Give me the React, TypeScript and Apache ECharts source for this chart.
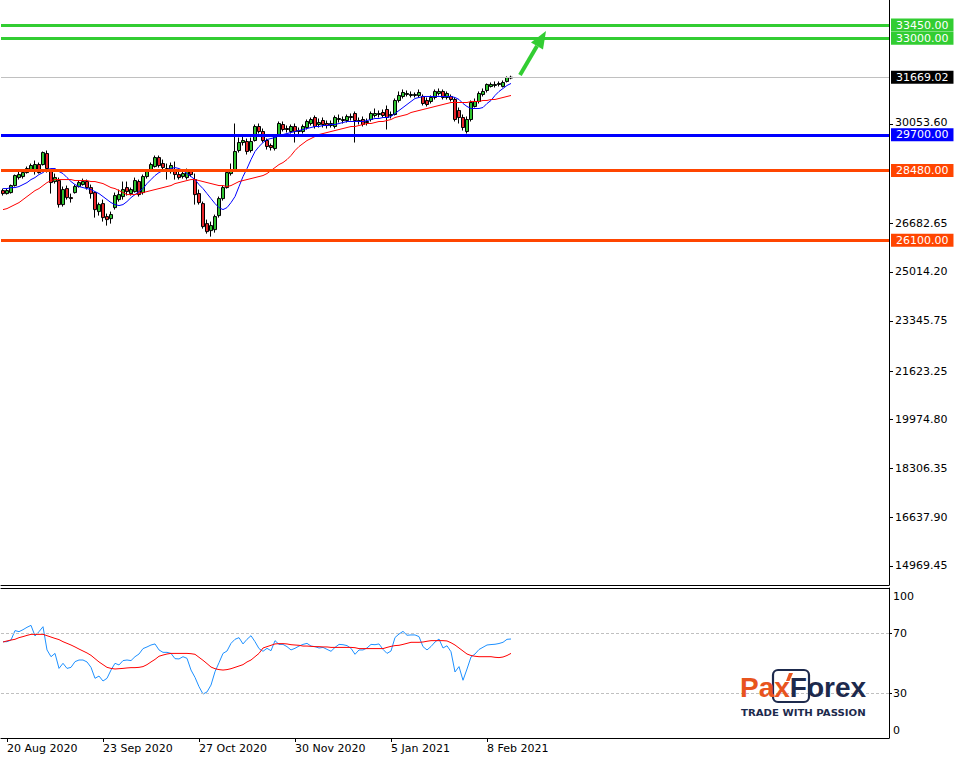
import React, { useEffect, useRef } from "react";
import * as echarts from "echarts";

// ---------- categories ----------
const MONTHS = ["Jan", "Feb", "Mar", "Apr", "May", "Jun", "Jul", "Aug", "Sep", "Oct", "Nov", "Dec"];
const FIRST_DAY = "2020-08-19";
const MARKET_HOLIDAYS = ["2020-12-25", "2021-01-01"];
const SLOT_COUNT = 222; // visible bar slots incl. empty right margin
const DATE_LABELS = ["20 Aug 2020", "23 Sep 2020", "27 Oct 2020", "30 Nov 2020", "5 Jan 2021", "8 Feb 2021"];

// ---------- candles (US30 daily) ----------
const OPEN = [
  27796, 27693, 27727, 27967, 28240, 28275, 28411, 28480, 28446, 28685,
  28685, 29061, 28446, 28104, 28138, 27317, 27864, 27556, 27727, 27933,
  28001, 28104, 27898, 27727, 27078, 27351, 26907, 26838, 27214, 27488,
  27591, 27898, 27693, 27762, 28104, 27727, 28275, 28480, 28617, 28924,
  28719, 28548, 28446, 28446, 28343, 28275, 28240, 28446, 28172, 27693,
  27351, 26667, 26428, 26462, 26941, 27522, 27898, 28377, 28480, 29164,
  29437, 29472, 29164, 29506, 29985, 29814, 29506, 29335, 29232, 29677,
  30053, 29882, 29814, 29985, 29814, 29814, 29950, 30087, 30292, 30053,
  30190, 30087, 30019, 29985, 30224, 30190, 30190, 30292, 30429, 30190,
  30224, 30121, 30224, 30361, 30395, 30463, 30566, 30361, 30395, 30874,
  31011, 31079, 31045, 31045, 31045, 31011, 30874, 30840, 30976, 31113,
  31182, 30976, 31011, 30908, 30532, 30292, 29814, 30224, 30669, 30840,
  31079, 31216, 31353, 31387, 31421, 31353, 31524, 31640,
];
const CLOSE = [
  27693, 27796, 27967, 28309, 28343, 28411, 28548, 28651, 28685, 28411,
  29095, 28548, 28069, 28240, 27317, 27830, 27556, 27522, 27933, 28069,
  28104, 27898, 27693, 27146, 27317, 26872, 26804, 26975, 27625, 27659,
  27830, 27762, 27830, 28138, 27659, 28275, 28446, 28685, 28924, 28651,
  28582, 28480, 28651, 28343, 28240, 28377, 28446, 28343, 27659, 27385,
  26565, 26394, 26599, 26907, 27522, 27898, 28411, 28514, 29130, 29437,
  29506, 29130, 29472, 29985, 29814, 29506, 29301, 29266, 29643, 30087,
  29882, 29916, 29985, 29814, 29848, 29985, 30156, 30224, 29985, 30121,
  30053, 30019, 30087, 30292, 30258, 30224, 30327, 30327, 30190, 30156,
  30053, 30156, 30429, 30429, 30429, 30361, 30292, 30395, 30874, 31045,
  31147, 31113, 31079, 31079, 31147, 30771, 30737, 30976, 31182, 31182,
  30976, 31113, 30908, 30224, 30292, 29950, 30224, 30805, 30840, 31113,
  31182, 31421, 31421, 31421, 31455, 31489, 31660, 31669.02,
];
const LOW = [
  27625, 27659, 27693, 27933, 28172, 28206, 28377, 28446, 28343, 28377,
  28651, 28411, 27693, 28035, 27214, 27249, 27488, 27385, 27693, 27898,
  27967, 27830, 27522, 26872, 26941, 26736, 26599, 26667, 27146, 27420,
  27488, 27625, 27625, 27727, 27591, 27659, 28206, 28446, 28582, 28582,
  28480, 28172, 28377, 28172, 28172, 28206, 28172, 28275, 27317, 27317,
  26496, 26325, 26223, 26359, 26872, 27454, 27864, 28309, 28446, 29095,
  29335, 29027, 29095, 29472, 29745, 29437, 29198, 29164, 29164, 29643,
  29814, 29779, 29745, 29437, 29711, 29745, 29882, 30019, 29916, 29950,
  29950, 29916, 29950, 29916, 30121, 30087, 30121, 30190, 29437, 30053,
  29985, 30019, 30156, 30292, 30292, 30292, 29882, 30258, 30361, 30805,
  30942, 31011, 30976, 30976, 30976, 30703, 30669, 30771, 30908, 31045,
  30908, 30908, 30840, 30156, 30087, 29848, 29745, 30156, 30634, 30771,
  31011, 31147, 31318, 31318, 31353, 31318, 31489, 31600,
];
const HIGH = [
  27864, 27864, 28001, 28343, 28446, 28480, 28617, 28719, 28822, 28753,
  29130, 29164, 28514, 28377, 28240, 27933, 27967, 27693, 28001, 28138,
  28206, 28172, 28001, 27762, 27385, 27488, 27009, 27078, 27727, 27830,
  28104, 28104, 27898, 28240, 28172, 28343, 28514, 28753, 28993, 28993,
  28856, 28719, 28753, 28788, 28514, 28514, 28548, 28514, 28377, 27830,
  27420, 26804, 26736, 26975, 27591, 27967, 28480, 28719, 30087, 29608,
  29643, 29574, 29608, 30053, 30087, 29916, 29574, 29403, 29711, 30156,
  30156, 30019, 30053, 30087, 29950, 30053, 30224, 30292, 30361, 30258,
  30292, 30190, 30190, 30361, 30395, 30327, 30395, 30429, 30498, 30292,
  30327, 30258, 30498, 30600, 30532, 30566, 30703, 30498, 30942, 31182,
  31250, 31216, 31182, 31147, 31250, 31079, 30976, 31045, 31250, 31284,
  31250, 31182, 31079, 30976, 30634, 30395, 30327, 30874, 30942, 31182,
  31284, 31455, 31489, 31524, 31524, 31558, 31695, 31720,
];

// ---------- moving averages ----------
const MA_FAST = [
  27864, 27864, 27898, 27898, 27933, 28001, 28069, 28172, 28240, 28343,
  28411, 28514, 28548, 28548, 28446, 28377, 28240, 28104, 28001, 27933,
  27898, 27864, 27830, 27762, 27693, 27591, 27488, 27385, 27317, 27283,
  27317, 27420, 27556, 27659, 27762, 27864, 28035, 28172, 28309, 28411,
  28480, 28514, 28548, 28582, 28548, 28480, 28377, 28275, 28172, 28001,
  27864, 27693, 27522, 27351, 27214, 27146, 27214, 27385, 27591, 27933,
  28275, 28548, 28856, 29130, 29301, 29437, 29540, 29574, 29608, 29677,
  29711, 29745, 29779, 29814, 29848, 29882, 29916, 29950, 29985, 29985,
  30019, 30019, 30053, 30053, 30087, 30121, 30156, 30156, 30156, 30156,
  30156, 30190, 30224, 30258, 30258, 30292, 30292, 30327, 30429, 30532,
  30634, 30737, 30840, 30942, 30976, 31011, 31011, 31011, 31011, 31011,
  31011, 31011, 31011, 30976, 30908, 30771, 30669, 30600, 30600, 30600,
  30634, 30771, 30874, 31045, 31182, 31284, 31387, 31455,
];
const MA_SLOW = [
  27146, 27180, 27249, 27317, 27385, 27488, 27591, 27693, 27796, 27864,
  27967, 28069, 28138, 28172, 28172, 28172, 28172, 28172, 28138, 28138,
  28138, 28138, 28104, 28104, 28069, 28035, 27967, 27898, 27864, 27796,
  27727, 27659, 27659, 27659, 27693, 27727, 27762, 27796, 27830, 27864,
  27898, 27933, 27967, 28035, 28069, 28104, 28138, 28172, 28172, 28138,
  28104, 28069, 28035, 28001, 27967, 27967, 27933, 27967, 28035, 28104,
  28138, 28172, 28206, 28240, 28275, 28309, 28377, 28480, 28582, 28685,
  28753, 28856, 28993, 29164, 29301, 29403, 29506, 29574, 29643, 29711,
  29745, 29779, 29814, 29848, 29882, 29916, 29950, 29985, 29985, 30019,
  30053, 30087, 30087, 30121, 30156, 30156, 30190, 30224, 30292, 30327,
  30361, 30395, 30463, 30498, 30532, 30566, 30600, 30634, 30669, 30703,
  30737, 30771, 30805, 30805, 30805, 30805, 30805, 30840, 30840, 30840,
  30874, 30874, 30908, 30908, 30942, 30976, 31011, 31045,
];

// ---------- RSI ----------
const RSI = [
  64.2, 64.2, 65.3, 71.6, 70.9, 72.2, 73.8, 75.1, 68, 70.9,
  74.2, 58.7, 54.2, 56.4, 46.4, 49.8, 46.4, 47.1, 50.9, 52,
  52, 50.7, 47.1, 39.8, 41.3, 38, 39.8, 45.3, 49.8, 48.7,
  51.6, 52, 51.6, 54.2, 56, 59.6, 60.7, 62, 62.7, 58.7,
  57.1, 57.1, 56.4, 52.9, 52.7, 54.2, 53.1, 45.3, 40.4, 34.2,
  29.3, 30.7, 35.3, 44.2, 50.2, 56.4, 58, 63.1, 65.8, 66.9,
  62.7, 65.8, 68.2, 64.2, 59.6, 57.8, 59.8, 58.2, 64.9, 62.4,
  62.4, 60.9, 58.7, 59.8, 61.3, 62.4, 63.1, 61.3, 60.9, 60,
  60.4, 59.1, 57.8, 60.4, 62.4, 62.2, 61.6, 59.8, 55.8, 58.7,
  58.7, 60, 62.4, 62.2, 62.7, 59.1, 56.4, 58, 67, 69.3,
  71.1, 68.5, 68.7, 68.7, 67.6, 60.9, 58.7, 61, 64, 66,
  60, 61.5, 57.5, 44, 47.6, 38.5, 46, 54, 56, 59,
  60.5, 62, 62.3, 62.5, 63, 63.8, 65.8, 66,
];
const RSI_SIGNAL = [
  64, 64.7, 65.3, 65.8, 66.9, 67.6, 68.4, 69.1, 69.1, 69.1,
  69.1, 68.2, 67.3, 66.4, 65.6, 64.2, 63.1, 62, 60.7, 59.3,
  58, 56.7, 55.1, 52.9, 50.7, 48.9, 47.1, 46.4, 46, 46.2,
  46.4, 46.7, 46.9, 46.9, 47.1, 47.6, 48.9, 50.7, 52.4, 54.5,
  55.3, 56, 56.4, 56.4, 56.4, 56.4, 56.4, 56.2, 55.8, 53.8,
  51.8, 49.6, 47.3, 46.2, 45.6, 45.3, 45.6, 46.2, 47.1, 48,
  48.9, 50.7, 52, 54.2, 56.4, 60, 60.9, 61.8, 62.7, 62.9,
  62.9, 62.7, 62.2, 62, 61.8, 61.3, 61.3, 61.1, 60.9, 60.9,
  60.7, 60.7, 60.4, 60.4, 60.4, 60.4, 60.4, 60.4, 60.2, 59.6,
  59.6, 59.6, 59.6, 59.6, 59.6, 59.6, 60.4, 61.1, 61.6, 61.8,
  62.4, 63.1, 63.8, 63.8, 63.8, 64, 64.5, 64.9, 64.9, 64.9,
  64.9, 64.7, 63.5, 62, 60, 58, 56, 55, 54.5, 54.2,
  54.2, 54.2, 54.2, 53.8, 53.6, 54, 55, 56.4,
];

// ---------- levels & ticks ----------
const TARGET_LEVELS = [33450, 33000];
const PIVOT_LEVELS = [29700];
const SUPPORT_LEVELS = [28480, 26100];
const LAST_PRICE = 31669.02;
const PRICE_MIN = 14320;
const PRICE_MAX = 34307;
const PRICE_TICKS = [14969.45, 16637.9, 18306.35, 19974.8, 21623.25, 23345.75, 25014.2, 26682.65, 30053.6];
const RSI_TICKS = [0, 30, 70, 100];
const RSI_LEVELS = [70, 30];

// ---------- styling ----------
const FONT = "DejaVu Sans";
const GREEN = "#32CD32";
const BLUE = "#0000FF";
const ORANGE = "#FF4500";
const BULL = "#2fc42f";
const BEAR = "#e8252a";
const LOGO_ORANGE = "#E8541E";
const LOGO_NAVY = "#1D2A4D";

function buildDates(n: number): string[] {
  const out: string[] = [];
  const d = new Date(FIRST_DAY + "T00:00:00Z");
  while (out.length < n) {
    const wd = d.getUTCDay();
    const iso = d.toISOString().slice(0, 10);
    if (wd !== 0 && wd !== 6 && !MARKET_HOLIDAYS.includes(iso)) {
      out.push(`${d.getUTCDate()} ${MONTHS[d.getUTCMonth()]} ${d.getUTCFullYear()}`);
    }
    d.setUTCDate(d.getUTCDate() + 1);
  }
  return out;
}

function levelItem(value: number, color: string, width: number, boxColor = color) {
  return {
    yAxis: value,
    lineStyle: { color, width, type: "solid" },
    label: {
      show: true,
      position: "end",
      distance: 2,
      formatter: () => value.toFixed(2),
      color: "#fff",
      backgroundColor: boxColor,
      fontFamily: FONT,
      fontSize: 11,
      lineHeight: 11,
      padding: [1, 5, 1, 5],
    },
  };
}

export default function App() {
  const ref = useRef<HTMLDivElement>(null);

  useEffect(() => {
    if (!ref.current) return;
    const chart = echarts.init(ref.current, null, { renderer: "svg" });
    const dates = buildDates(SLOT_COUNT);
    const showLabel = (_i: number, v: string) => DATE_LABELS.includes(v);
    const candles = OPEN.map((o, i) => [o, CLOSE[i], LOW[i], HIGH[i]]);

    const levelData = [
      ...TARGET_LEVELS.map((v) => levelItem(v, GREEN, 3)),
      levelItem(LAST_PRICE, "#c0c0c0", 1, "#000000"),
      ...PIVOT_LEVELS.map((v) => levelItem(v, BLUE, 3)),
      ...SUPPORT_LEVELS.map((v) => levelItem(v, ORANGE, 3)),
    ];

    const option: any = {
      animation: false,
      backgroundColor: "#ffffff",
      textStyle: { fontFamily: FONT, fontSize: 11, color: "#000" },
      grid: [
        { left: 1, top: 0, width: 888, height: 585 },
        { left: 1, top: 588, width: 888, height: 150 },
      ],
      xAxis: [
        {
          type: "category",
          gridIndex: 0,
          data: dates,
          boundaryGap: true,
          axisLine: { show: true, onZero: false, lineStyle: { color: "#000", width: 1 } },
          axisTick: { show: false },
          axisLabel: { show: false },
          splitLine: { show: false },
        },
        {
          type: "category",
          gridIndex: 1,
          data: dates,
          boundaryGap: true,
          position: "bottom",
          axisLine: { show: true, onZero: false, lineStyle: { color: "#000", width: 1 } },
          axisTick: { show: true, alignWithLabel: true, interval: showLabel, length: 4, lineStyle: { color: "#000" } },
          axisLabel: {
            show: true,
            interval: showLabel,
            align: "left",
            margin: 5,
            color: "#000",
            fontFamily: FONT,
            fontSize: 11,
          },
          splitLine: { show: false },
        },
        {
          type: "category",
          gridIndex: 1,
          data: dates,
          boundaryGap: true,
          position: "top",
          axisLine: { show: true, onZero: false, lineStyle: { color: "#000", width: 1 } },
          axisTick: { show: false },
          axisLabel: { show: false },
          splitLine: { show: false },
        },
      ],
      yAxis: [
        {
          type: "value",
          gridIndex: 0,
          position: "right",
          min: PRICE_MIN,
          max: PRICE_MAX,
          axisLine: { show: true, onZero: false, lineStyle: { color: "#000", width: 1 } },
          axisTick: { show: true, length: 4, customValues: PRICE_TICKS, lineStyle: { color: "#000" } },
          axisLabel: {
            show: true,
            customValues: PRICE_TICKS,
            formatter: (v: number) => (v === 30053.6 ? "{up|" + v.toFixed(2) + "}" : v.toFixed(2)),
            margin: 6,
            color: "#000",
            fontFamily: FONT,
            fontSize: 11,
            lineHeight: 11,
            rich: {
              up: { padding: [0, 0, 3, 0], fontFamily: FONT, fontSize: 11, lineHeight: 11, color: "#000" },
            },
          },
          splitLine: { show: false },
        },
        {
          type: "value",
          gridIndex: 1,
          position: "right",
          min: 0,
          max: 100,
          axisLine: { show: true, onZero: false, lineStyle: { color: "#000", width: 1 } },
          axisTick: { show: true, length: 3, customValues: [30, 70], lineStyle: { color: "#000" } },
          axisLabel: {
            show: true,
            customValues: RSI_TICKS,
            margin: 4,
            color: "#000",
            fontFamily: FONT,
            fontSize: 11,
            formatter: (v: number) => (v === 100 ? "{top|100}" : v === 0 ? "{bot|0}" : String(v)),
            rich: {
              top: { padding: [16, 0, 0, 0], fontFamily: FONT, fontSize: 11, color: "#000" },
              bot: { padding: [0, 0, 15, 0], fontFamily: FONT, fontSize: 11, color: "#000" },
            },
          },
          splitLine: { show: false },
        },
      ],
      series: [
        {
          type: "candlestick",
          name: "US30",
          xAxisIndex: 0,
          yAxisIndex: 0,
          data: candles,
          barWidth: 3,
          z: 2,
          itemStyle: {
            color: BULL,
            color0: BEAR,
            borderColor: "#000",
            borderColor0: "#000",
            borderColorDoji: "#000",
            borderWidth: 1,
          },
        },
        {
          type: "line",
          name: "MA fast",
          xAxisIndex: 0,
          yAxisIndex: 0,
          data: MA_FAST,
          symbol: "none",
          showSymbol: false,
          z: 3,
          lineStyle: { color: BLUE, width: 1 },
        },
        {
          type: "line",
          name: "MA slow",
          xAxisIndex: 0,
          yAxisIndex: 0,
          data: MA_SLOW,
          symbol: "none",
          showSymbol: false,
          z: 4,
          lineStyle: { color: "#FF0000", width: 1 },
          markLine: {
            silent: true,
            symbol: ["none", "none"],
            animation: false,
            data: levelData,
          },
        },
        {
          type: "line",
          name: "RSI",
          xAxisIndex: 1,
          yAxisIndex: 1,
          data: RSI,
          symbol: "none",
          showSymbol: false,
          z: 3,
          lineStyle: { color: "#1E90FF", width: 1 },
          markLine: {
            silent: true,
            symbol: ["none", "none"],
            animation: false,
            label: { show: false },
            lineStyle: { color: "#c0c0c0", width: 1, type: [3, 2] },
            data: RSI_LEVELS.map((v) => ({ yAxis: v })),
          },
        },
        {
          type: "line",
          name: "RSI signal",
          xAxisIndex: 1,
          yAxisIndex: 1,
          data: RSI_SIGNAL,
          symbol: "none",
          showSymbol: false,
          z: 4,
          lineStyle: { color: "#FF0000", width: 1 },
        },
      ],
      graphic: [
        // forecast arrow
        {
          type: "line",
          shape: { x1: 520, y1: 75, x2: 537, y2: 46 },
          style: { stroke: GREEN, lineWidth: 4 },
          z: 10,
        },
        {
          type: "polygon",
          shape: { points: [[546, 31], [531, 42.5], [543, 49.5]] },
          style: { fill: GREEN },
          z: 10,
        },
        // PaxForex logo
        {
          type: "rect",
          shape: { x: 773, y: 670, width: 36, height: 32, r: 5 },
          style: { fill: "none", stroke: LOGO_NAVY, lineWidth: 2.2 },
          z: 10,
        },
        {
          type: "text",
          x: 740,
          y: 687,
          style: {
            text: "{o|Pax}{n|Forex}",
            verticalAlign: "middle",
            align: "left",
            font: "bold 28px 'Liberation Sans'",
            rich: {
              o: { fill: LOGO_ORANGE, font: "bold 28px 'Liberation Sans'" },
              n: { fill: LOGO_NAVY, font: "bold 28px 'Liberation Sans'" },
            },
          },
          z: 11,
        },
        {
          type: "polygon",
          shape: { points: [[789, 673], [793, 673], [789.5, 681], [786, 681]] },
          style: { fill: LOGO_ORANGE },
          z: 11,
        },
        {
          type: "text",
          x: 741,
          y: 713,
          scaleX: 1.27,
          style: {
            text: "TRADE WITH PASSION",
            verticalAlign: "middle",
            align: "left",
            fill: LOGO_NAVY,
            font: "bold 8px 'DejaVu Sans'",
          },
          z: 11,
        },
      ],
    };

    chart.setOption(option);
    return () => chart.dispose();
  }, []);

  return (
    <div
      ref={ref}
      style={{ position: "fixed", left: 0, top: 0, width: 958, height: 760, background: "#fff" }}
    />
  );
}
